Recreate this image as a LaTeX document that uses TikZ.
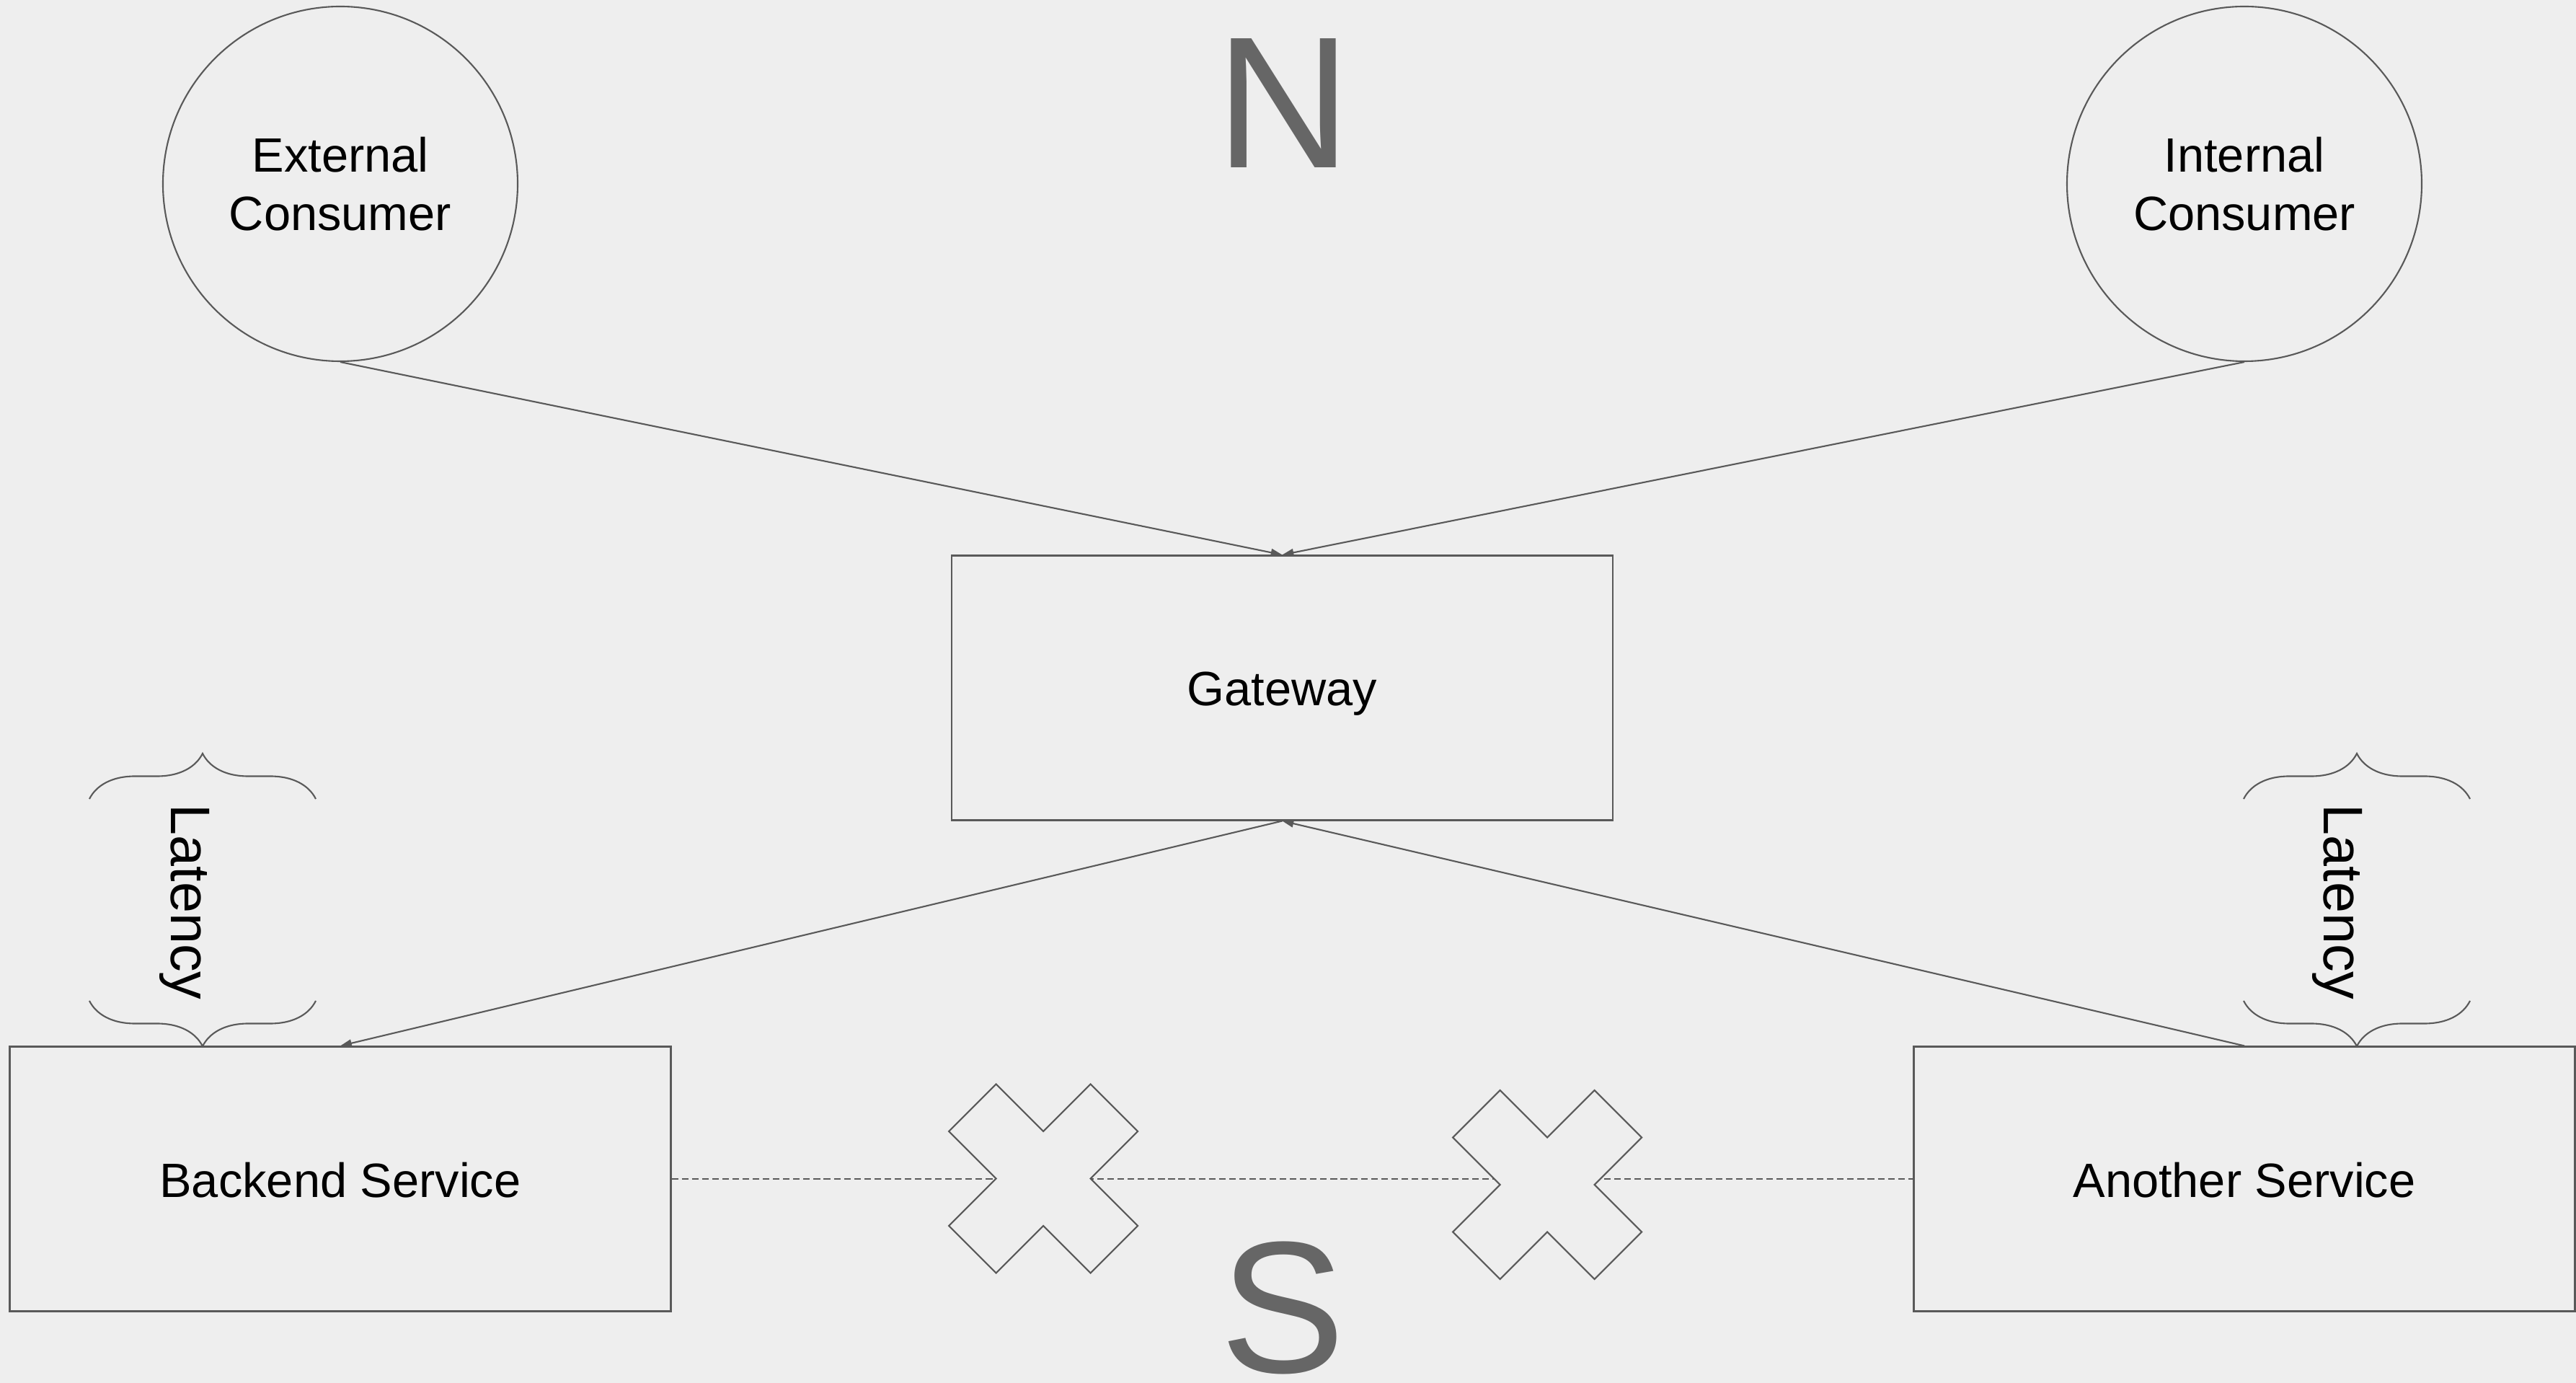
\documentclass[tikz,border=0pt]{standalone}
\usepackage{fontspec}
\setmainfont{Liberation Sans}
\usepackage{tikz}
\usetikzlibrary{arrows.meta, decorations.pathreplacing}

\definecolor{bgcol}{HTML}{EEEEEE}
\definecolor{linegray}{HTML}{595959}
\definecolor{lettergray}{HTML}{666666}

\begin{document}
\begin{tikzpicture}[
        >={Triangle[length=4.5pt,width=3pt]},
        conn/.style={draw=linegray, line width=0.6pt},
        consumer/.style={circle, draw=linegray, line width=0.6pt, minimum size=4.92cm, inner sep=0pt, align=center, font=\fontsize{19}{23}\selectfont},
        service/.style={rectangle, draw=linegray, line width=0.6pt, minimum width=9.17cm, minimum height=3.67cm, text height=0.5cm, text depth=0cm, font=\fontsize{19}{23}\selectfont},
        latency/.style={rotate=-90, anchor=base, font=\fontsize{22}{26}\selectfont},
        compass/.style={anchor=base, inner sep=0pt, text depth=0pt, text=lettergray, font=\fontsize{74}{80}\selectfont},
        latencybrace/.style={draw=linegray, line width=0.6pt, decorate, decoration={brace, amplitude=0.63cm}},
        xmark/.style={draw=linegray, line width=0.6pt, fill=bgcol}
    ]
        %背景
        \fill[bgcol] (0,0) rectangle (35.73,-19.18);
        \useasboundingbox (0,0) rectangle (35.73,-19.18);

        %ノード
        \node[consumer] (ext) at (4.72,-2.55) {External\\Consumer};
        \node[consumer] (int) at (31.13,-2.55) {Internal\\Consumer};
        \node[service] (gw) at (17.785,-9.54) {Gateway};
        \node[service] (back) at (4.72,-16.35) {Backend Service};
        \node[service] (other) at (31.13,-16.35) {Another Service};

        \node[compass] (north) at (17.8,-2.33) {N};
        \node[compass] (south) at (17.79,-19.03) {S};

        %矢印
        \draw[conn,->] (ext.south)--(gw.north);
        \draw[conn,->] (int.south)--(gw.north);
        \draw[conn,->] (gw.south)--(back.north);
        \draw[conn,->] (other.north)--(gw.south);

        %破線とバツ印
        \draw[conn, dash pattern=on 2.6pt off 1.4pt] (back.east)--(other.west);
        \foreach \cx/\cy in {14.47/-16.345, 21.46/-16.43}
            \draw[xmark, shift={(\cx,\cy)}] (-0.655,1.31)--(0,0.655)--(0.655,1.31)--(1.31,0.655)--(0.655,0)--(1.31,-0.655)
                --(0.655,-1.31)--(0,-0.655)--(-0.655,-1.31)--(-1.31,-0.655)--(-0.655,0)--(-1.31,0.655)--cycle;

        %レイテンシ
        \draw[latencybrace] (1.24,-11.08)--(4.38,-11.08);
        \draw[latencybrace] (4.38,-13.88)--(1.24,-13.88);
        \node[latency] (latleft) at (2.37,-12.51) {Latency};

        \draw[latencybrace] (31.12,-11.08)--(34.26,-11.08);
        \draw[latencybrace] (34.26,-13.88)--(31.12,-13.88);
        \node[latency] (latright) at (32.23,-12.51) {Latency};
    \end{tikzpicture}
\end{document}
